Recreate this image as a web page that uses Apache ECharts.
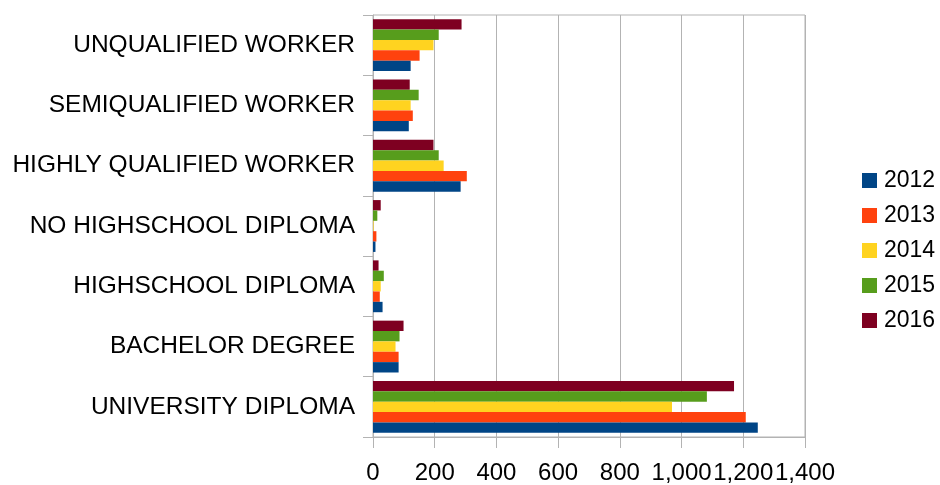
<!DOCTYPE html>
<html>
<head>
<meta charset="utf-8">
<script src="https://cdn.jsdelivr.net/npm/echarts@6/dist/echarts.min.js"></script>
<style>
  html, body { margin: 0; padding: 0; background: #fff; }
  #chart { width: 940px; height: 485px; }
</style>
</head>
<body>
<div id="chart"></div>
<script>
// categories listed bottom to top
const categories = [
  'UNIVERSITY DIPLOMA',
  'BACHELOR DEGREE',
  'HIGHSCHOOL DIPLOMA',
  'NO HIGHSCHOOL DIPLOMA',
  'HIGHLY QUALIFIED WORKER',
  'SEMIQUALIFIED WORKER',
  'UNQUALIFIED WORKER'
]
const years = ['2012', '2013', '2014', '2015', '2016']
const values2012 = [1247, 83, 31, 8, 284, 116, 122]
const values2013 = [1208, 83, 22, 11, 304, 129, 151]
const values2014 = [969, 73, 25, 2, 229, 122, 196]
const values2015 = [1082, 86, 35, 14, 213, 148, 213]
const values2016 = [1170, 99, 18, 25, 196, 119, 287]
const colors = ['#004586', '#ff420e', '#ffd320', '#579d1c', '#7e0021']

const chart = echarts.init(document.getElementById('chart'))
const seriesValues = [values2012, values2013, values2014, values2015, values2016]

// echarts stacks the first series on top, so add them newest first
const series = years.map((y, i) => ({
  name: y,
  type: 'bar',
  data: seriesValues[i],
  barGap: '0%',
  barCategoryGap: '14%',
  itemStyle: { color: colors[i] }
})).reverse()

chart.setOption({
  animation: false,
  textStyle: { fontFamily: 'Liberation Sans' },
  grid: {
    left: 373,
    right: 135,
    top: 15,
    bottom: 45,
    show: true,
    borderColor: '#b3b3b3',
    borderWidth: 1
  },
  legend: {
    data: years,
    orient: 'vertical',
    left: 862,
    top: 169,
    padding: 0,
    icon: 'rect',
    itemWidth: 15,
    itemHeight: 15,
    itemGap: 12,
    textStyle: { fontSize: 23, color: '#000', padding: [0, 0, 0, 2] }
  },
  xAxis: {
    type: 'value',
    min: 0,
    max: 1400,
    interval: 200,
    axisLine: { show: true, lineStyle: { color: '#b3b3b3' } },
    axisTick: { show: true, length: 11, lineStyle: { color: '#b3b3b3' } },
    splitLine: { lineStyle: { color: '#b3b3b3' } },
    axisLabel: {
      fontSize: 24,
      color: '#000',
      margin: 24,
      formatter: v => v.toString().replace(/\B(?=(\d{3})+(?!\d))/g, ',')
    }
  },
  yAxis: {
    type: 'category',
    data: categories,
    axisLine: { show: true, lineStyle: { color: '#b3b3b3' } },
    axisTick: { show: true, length: 10, lineStyle: { color: '#b3b3b3' } },
    axisLabel: { fontSize: 24.5, color: '#000', margin: 18, padding: [6, 0, 0, 0] }
  },
  series: series
})
</script>
</body>
</html>
